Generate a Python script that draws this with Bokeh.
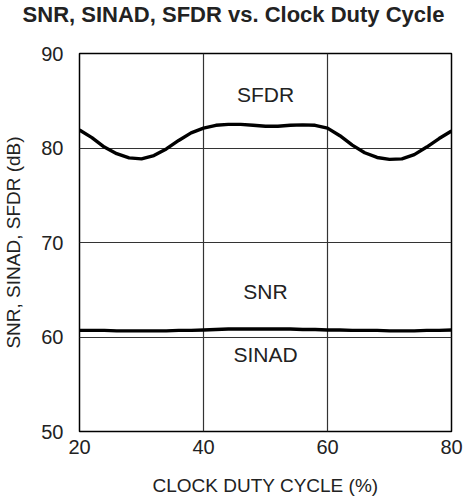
from bokeh.plotting import figure
from bokeh.models import Range1d, FixedTicker, Label, Div
from bokeh.layouts import column
from bokeh.embed import file_html
from bokeh.resources import INLINE

duty = [20, 22, 24, 26, 28, 30, 32, 34, 36, 38, 40, 42, 44, 46, 48, 50, 52, 54, 56, 58, 60,
        62, 64, 66, 68, 70, 72, 74, 76, 78, 80]
sfdr = [81.9, 81.1, 80.1, 79.4, 78.95, 78.85, 79.2, 79.9, 80.8, 81.6, 82.1, 82.4, 82.5, 82.5,
        82.4, 82.3, 82.3, 82.4, 82.45, 82.4, 82.1, 81.3, 80.3, 79.5, 79.0, 78.8, 78.85, 79.3,
        80.1, 81.0, 81.8]
snr = [60.75, 60.75, 60.75, 60.7, 60.7, 60.7, 60.7, 60.7, 60.75, 60.75, 60.8, 60.85, 60.9, 60.9,
       60.9, 60.9, 60.9, 60.9, 60.85, 60.85, 60.8, 60.8, 60.75, 60.75, 60.75, 60.7, 60.7, 60.7,
       60.75, 60.75, 60.8]
sinad = [60.65, 60.65, 60.65, 60.6, 60.6, 60.6, 60.6, 60.6, 60.65, 60.65, 60.7, 60.75, 60.8, 60.8,
         60.8, 60.8, 60.8, 60.8, 60.75, 60.75, 60.7, 60.7, 60.65, 60.65, 60.65, 60.6, 60.6, 60.6,
         60.65, 60.65, 60.7]
x_ticks = [20, 40, 60, 80]
y_ticks = [50, 60, 70, 80, 90]
labels = ["SFDR", "SNR", "SINAD"]
label_x = [50, 50, 50]
label_y = [85.7, 64.8, 58.2]
title_text = "SNR, SINAD, SFDR vs. Clock Duty Cycle"

FONT = "Liberation Sans"

title_div = Div(text=title_text, width=464, height=30, margin=(0, 0, 0, 0),
                styles={"font-family": FONT, "font-size": "22px", "font-weight": "bold",
                        "text-align": "center", "line-height": "30px", "color": "#222222",
                        "padding-left": "3px", "white-space": "nowrap"})

p = figure(width=464, height=470, output_backend="svg", toolbar_location=None,
           x_range=Range1d(20, 80), y_range=Range1d(50, 90),
           min_border_left=72, min_border_right=13, min_border_top=23, min_border_bottom=69)

p.outline_line_color = "black"
p.outline_line_width = 1.5
p.outline_line_alpha = 1

for ax in (p.xaxis, p.yaxis):
    ax.axis_line_color = None
    ax.major_tick_line_color = None
    ax.minor_tick_line_color = None
    ax.major_label_text_font = FONT
    ax.major_label_text_font_size = "20px"
    ax.major_label_text_color = "#222222"
    ax.axis_label_text_font = FONT
    ax.axis_label_text_font_size = "19px"
    ax.axis_label_text_font_style = "normal"
    ax.axis_label_text_color = "#222222"

p.xaxis.ticker = FixedTicker(ticks=x_ticks)
p.yaxis.ticker = FixedTicker(ticks=y_ticks)
p.xaxis.axis_label = "CLOCK DUTY CYCLE (%)"
p.yaxis.axis_label = "SNR, SINAD, SFDR (dB)"
p.xaxis.major_label_standoff = 2
p.yaxis.major_label_standoff = 10
p.xaxis.axis_label_standoff = 18
p.yaxis.axis_label_standoff = 14

p.xgrid.ticker = FixedTicker(ticks=x_ticks)
p.ygrid.ticker = FixedTicker(ticks=y_ticks)
for g in (p.xgrid, p.ygrid):
    g.grid_line_color = "#333333"
    g.grid_line_width = 1.2
    g.grid_line_alpha = 1

p.line(duty, sfdr, line_color="black", line_width=3.4)
p.line(duty, sinad, line_color="black", line_width=2.5)
p.line(duty, snr, line_color="black", line_width=2.5)

for t, lx, ly in zip(labels, label_x, label_y):
    p.add_layout(Label(x=lx, y=ly, text=t, text_font=FONT, text_font_size="21px",
                       text_align="center", text_baseline="middle", text_color="#222222"))

layout = column(title_div, p, spacing=0)
open("out.html", "w").write(file_html(layout, INLINE))
